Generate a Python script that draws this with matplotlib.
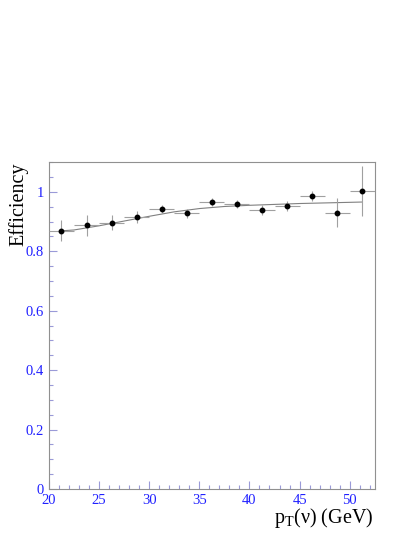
import numpy as np
import matplotlib
matplotlib.use('Agg')
import matplotlib.pyplot as plt
from matplotlib.ticker import MultipleLocator

# efficiency per pT(nu) bin
pt = [21.25, 23.75, 26.25, 28.75, 31.25, 33.75, 36.25, 38.75, 41.25, 43.75, 46.25, 48.75, 51.25]
eff = [0.870, 0.888, 0.896, 0.916, 0.942, 0.928, 0.965, 0.960, 0.939, 0.952, 0.985, 0.930, 1.002]
err_lo = [0.034, 0.035, 0.025, 0.020, 0.014, 0.016, 0.014, 0.013, 0.016, 0.017, 0.017, 0.048, 0.084]
err_hi = [0.034, 0.035, 0.025, 0.020, 0.014, 0.016, 0.014, 0.013, 0.016, 0.017, 0.017, 0.048, 0.084]
bin_half = 1.25

# fitted curve
fit_x = [21.25, 22.5, 25, 27.5, 30, 32.5, 35, 37.5, 40, 42.5, 45, 47.5, 50, 51.25]
fit_y = [0.869, 0.872, 0.886, 0.902, 0.918, 0.933, 0.944, 0.951, 0.955, 0.958, 0.961, 0.963, 0.965, 0.966]

plt.rcParams['font.family'] = ['Liberation Serif', 'DejaVu Serif']

fig = plt.figure(figsize=(4.15, 5.37), dpi=100)
ax = fig.add_axes([0.118, 0.0894, 0.785, 0.6085])

ax.plot(fit_x, fit_y, color='#808080', lw=0.8, zorder=2)
ax.errorbar(pt, eff, yerr=[err_lo, err_hi], xerr=bin_half, fmt='o', color='black',
            ms=3.2, ecolor='#a0a0a0', elinewidth=0.8, capsize=0, zorder=3)

ax.set_xlim(20, 52.5)
ax.set_ylim(0, 1.1)
ax.xaxis.set_major_locator(MultipleLocator(5))
ax.xaxis.set_minor_locator(MultipleLocator(1))
ax.yaxis.set_major_locator(MultipleLocator(0.2))
ax.yaxis.set_minor_locator(MultipleLocator(0.05))
ax.set_yticks([0, 0.2, 0.4, 0.6, 0.8, 1.0])
ax.set_yticklabels(['0', '0.2', '0.4', '0.6', '0.8', '1'])

ax.tick_params(which='both', direction='in', colors='#9a9ad8', labelcolor='#2020ff',
               labelsize=10.5, top=False, right=False)
ax.tick_params(which='major', length=6, width=0.8)
ax.tick_params(which='minor', length=3, width=0.8)
for s in ax.spines.values():
    s.set_color('#909090')
    s.set_linewidth(0.8)

fig.text(18.5 / 415, 1 - 162 / 537, 'Efficiency', fontsize=14.5, rotation=90,
         ha='center', va='top')
fig.text(373 / 415, 1 - 523 / 537, 'p$_\\mathregular{T}$(ν) (GeV)', fontsize=14.5,
         ha='right', va='baseline')

fig.savefig('out.png', dpi=100)
